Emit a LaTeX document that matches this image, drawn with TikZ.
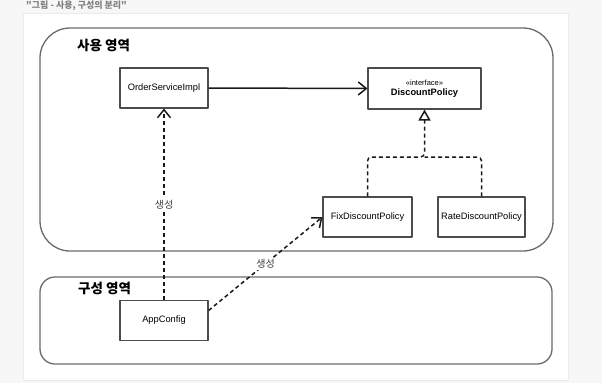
\documentclass[tikz,border=0pt]{standalone}
\usepackage{fontspec}
\setmainfont{Liberation Sans}
\newfontfamily\kr{Noto Sans CJK KR}
\usetikzlibrary{arrows.meta}

\begin{document}
\begin{tikzpicture}[x=1pt, y=-1pt, line cap=butt, line join=round]

% --- Global TikZ Styles for Consistency ---
\tikzset{
    region/.style={
        draw=black!58,
        line width=1.3pt
    },
    regionlabel/.style={
        anchor=west,
        inner sep=0pt,
        font=\kr\bfseries\fontsize{13.5}{14}\selectfont
    },
    classbox/.style={
        draw=black!70,
        line width=1.1pt,
        fill=white,
        inner sep=0pt,
        align=center,
        font=\fontsize{9.3}{11}\selectfont
    },
    uses/.style={
        -{Straight Barb[length=8pt, width=13pt, line width=1.5pt]},
        line width=1.5pt,
        draw=black!90
    },
    creates/.style={
        uses,
        dash pattern=on 4pt off 3pt
    },
    realizes/.style={
        line width=1.5pt,
        draw=black!90,
        dash pattern=on 4pt off 3pt,
        rounded corners=4pt
    },
    edgelabel/.style={
        fill=white,
        inner sep=1.5pt,
        font=\kr\fontsize{10}{11}\selectfont,
        text=black!75
    }
}

% =========================================================================
% --- Page background and caption ---
% =========================================================================
\fill[black!3] (0,0) rectangle (602,383);
\useasboundingbox (0,0) rectangle (602,383);
\filldraw[fill=white, draw=black!8, line width=0.8pt] (23,13) rectangle (568,380);

\node[anchor=west, inner sep=0pt, text=black!50,
      font=\kr\bfseries\fontsize{9}{10}\selectfont] (caption) at (26,5.5)
    {"그림 - 사용, 구성의 분리"};

% =========================================================================
% --- Regions ---
% =========================================================================
\draw[region, rounded corners=30pt] (40,28) rectangle (553,251);   % usage region
\draw[region, rounded corners=15pt] (40,277) rectangle (552,364);  % config region

\node[regionlabel] (uselabel) at (77,45) {사용 영역};
\node[regionlabel] (cfglabel) at (78,288) {구성 영역};

% =========================================================================
% --- Classes ---
% =========================================================================
\node[classbox, minimum width=88pt, minimum height=40pt] (service) at (164,88) {OrderServiceImpl};
\node[classbox, minimum width=113pt, minimum height=41pt] (policy) at (424.5,88.5)
    {{\fontsize{7.5}{9}\selectfont «interface»}\\[-1pt]\textbf{DiscountPolicy}};
\node[classbox, minimum width=89pt, minimum height=40pt] (fix) at (367.5,217) {FixDiscountPolicy};
\node[classbox, minimum width=87pt, minimum height=40pt] (rate) at (481.5,217) {RateDiscountPolicy};
\node[classbox, minimum width=88pt, minimum height=40pt] (config) at (164,320.5) {AppConfig};

% --- Dependency ---
\draw[uses] (service.east) -- (policy.west);

% --- Realization (shared branch) ---
\coordinate (branch) at (424.5,157);
\draw[realizes] (rate.north) |- (branch);
\draw[realizes, -{Triangle[open, length=11pt, width=12pt, line width=1.5pt]}]
    (fix.north) |- (branch) -- (policy.south);

% --- Creation ---
\draw[creates] (config.north) -- node[edgelabel, pos=0.5] (makeservice) {생성} (service.south);
\draw[creates] ([yshift=10pt]config.east) -- node[edgelabel, pos=0.5] (makefix) {생성} (fix.west);

\end{tikzpicture}
\end{document}
